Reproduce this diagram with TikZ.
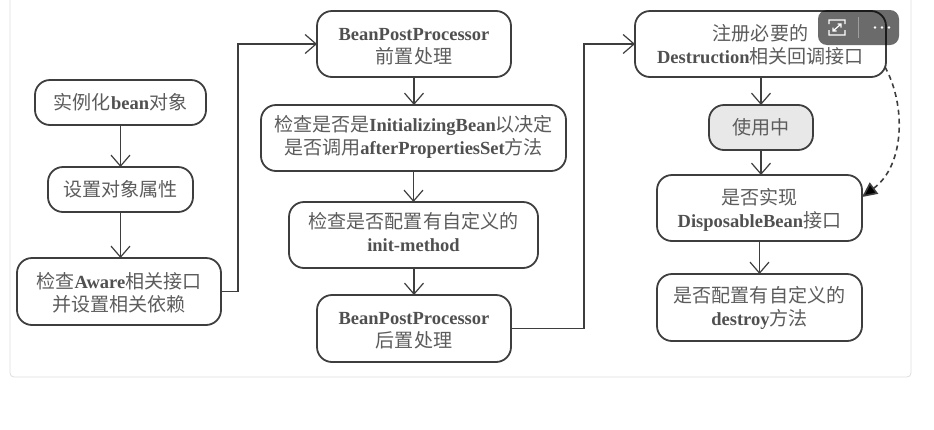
\documentclass[tikz,border=0pt]{standalone}
\usepackage{fontspec}
\setmainfont{Liberation Serif}
\newfontfamily\cjk{Noto Sans CJK SC}[Scale=1.03]
\usetikzlibrary{arrows.meta,positioning,calc}
\definecolor{txtgray}{HTML}{5C5C5C}
\definecolor{latingray}{HTML}{505050}
\definecolor{linegray}{HTML}{3E3E3E}
\definecolor{cardline}{HTML}{DDDDDD}
\newcommand{\zh}[1]{{\cjk\mdseries\color{txtgray}#1}}
\newcommand{\tl}[2]{\raisebox{-#1pt}[\height][\depth]{\begin{tabular}{@{}c@{}}#2\end{tabular}}}
\tikzset{
 x=1pt,y=-1pt,
 flow/.style={draw=linegray,line width=1.8pt,rounded corners=15pt,align=center,inner sep=0pt,outer sep=0pt,
   font=\fontsize{18.5}{23}\selectfont\bfseries,text=latingray,fill=white,anchor=north west},
 conn/.style={draw=linegray,line width=1.2pt,-{Straight Barb[length=11pt,width=19pt,line width=1.2pt]}},
}
\begin{document}
\begin{tikzpicture}
\useasboundingbox (0,0) rectangle (934,429);
\fill[white] (0,0) rectangle (934,429);
\draw[cardline,line width=.8pt,rounded corners=4pt] (10,-10) -- (10,377) -- (911,377) -- (911,-10);
% boxes
\node[flow,minimum width=171pt,minimum height=45pt] (a) at (35,80) {\zh{实例化}bean\zh{对象}};
\node[flow,minimum width=145pt,minimum height=45pt] (b) at (48,167) {\zh{设置对象属性}};
\node[flow,minimum width=204pt,minimum height=67pt] (c) at (17,258) {\tl{4}{\zh{检查}Aware\zh{相关接口}\\\zh{并设置相关依赖}}};
\node[flow,minimum width=194pt,minimum height=66pt] (d) at (317,11) {\tl{3}{BeanPostProcessor\\\zh{前置处理}}};
\node[flow,minimum width=305pt,minimum height=66pt] (e) at (261,105) {\tl{0}{\zh{检查是否是}InitializingBean\zh{以决定}\\\zh{是否调用}afterPropertiesSet\zh{方法}}};
\node[flow,minimum width=249pt,minimum height=66pt] (f) at (289,202) {\tl{0}{\zh{检查是否配置有自定义的}\\init-method}};
\node[flow,minimum width=194pt,minimum height=67pt] (g) at (317,295) {\tl{3}{BeanPostProcessor\\\zh{后置处理}}};
\node[flow,minimum width=251pt,minimum height=66pt] (h) at (635,11) {\tl{3}{\zh{注册必要的}\\Destruction\zh{相关回调接口}}};
\node[flow,fill=black!9,minimum width=104pt,minimum height=45pt] (i) at (709,105) {\zh{使用中}};
\node[flow,minimum width=205pt,minimum height=66pt] (j) at (657,175) {\tl{3}{\zh{是否实现}\\DisposableBean\zh{接口}}};
\node[flow,minimum width=205pt,minimum height=67pt] (k) at (657,274) {\tl{2}{\zh{是否配置有自定义的}\\destroy\zh{方法}}};
% connectors
\draw[conn] (a) -- (a |- b.north);
\draw[conn] (a |- b.south) -- (a |- c.north);
\draw[conn] (c.east) -- ++(17,0) |- (d.west);
\draw[conn] (d) -- (d |- e.north);
\draw[conn] (f |- e.south) -- (f);
\draw[conn] (g |- f.south) -- (g);
\draw[conn] (g.east) -- ++(73,0) |- (h.west);
\draw[conn] (i |- h.south) -- (i);
\draw[conn] (i) -- (i |- j.north);
\draw[conn] (j) -- (k);
\coordinate (hout) at (885,67);
\coordinate (jin) at (862,197);
\draw[draw=linegray,line width=1.6pt,dash pattern=on 5pt off 4pt,-{Triangle[length=15pt,width=14pt,fill=black]}]
  (hout) .. controls (906,105) and (905,165) .. (jin);
% overlay
\fill[black,opacity=.58,rounded corners=9pt] (818,10) rectangle (899,45);
\draw[white,opacity=.35,line width=.5pt] (858,17) -- (858,38);
\draw[white,line width=1.2pt] (829,24) -- (829,20) -- (845,20) -- (845,24)
  (829,30) -- (829,35) -- (845,35) -- (845,30)
  (833,31) -- (841,24) (841,27.5) -- (841,24) -- (837.5,24) (833,27.5) -- (833,31) -- (836.5,31);
\fill[white] (875,27.5) circle (1.3pt) (882,27.5) circle (1.3pt) (889,27.5) circle (1.3pt);
\end{tikzpicture}
\end{document}
